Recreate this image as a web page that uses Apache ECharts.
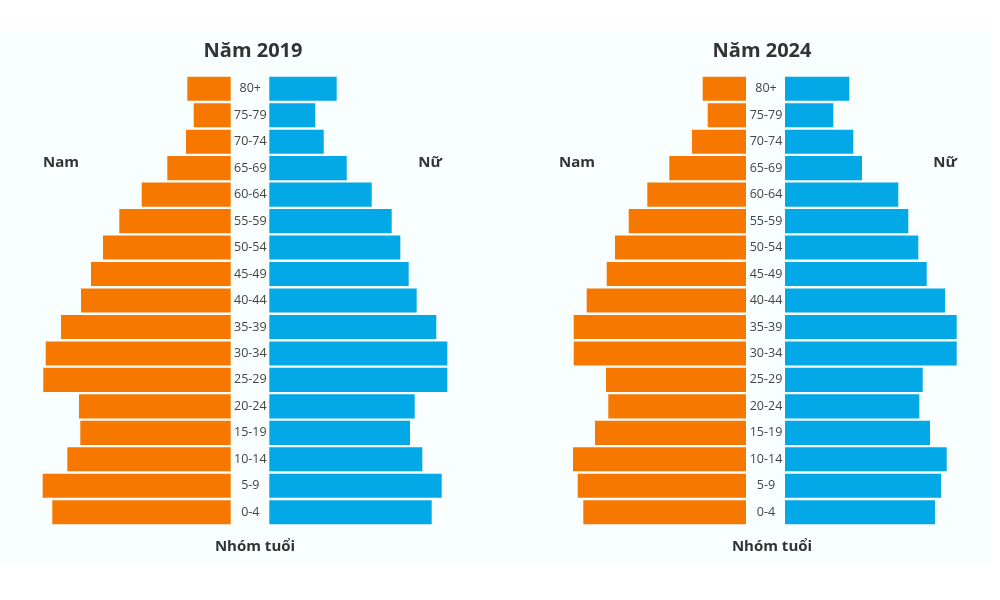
<!DOCTYPE html>
<html>
<head>
<meta charset="utf-8">
<script src="https://cdn.jsdelivr.net/npm/echarts@6/dist/echarts.min.js"></script>
<style>
html,body{margin:0;padding:0;background:#ffffff;}
#chart{width:1000px;height:600px;}
</style>
</head>
<body>
<div id="chart"></div>
<script>
// Age groups, bottom to top
var ageGroups = ['0-4','5-9','10-14','15-19','20-24','25-29','30-34','35-39','40-44','45-49','50-54','55-59','60-64','65-69','70-74','75-79','80+'];
// Relative bar lengths (same order as ageGroups)
var male2019   = [178.4,188,163.4,150.4,151.7,187.4,185,169.7,149.7,139.7,127.7,111.4,89,63.4,44.7,37,43.4];
var female2019 = [162.4,172.4,153,140.7,145.4,178,178,167,147.4,139.4,131,122.4,102.4,77.4,54.4,46,67.4];
var male2024   = [162.7,168.3,173,151,137.7,140,172.3,172.3,159.3,139.3,131,117.3,98.7,76.7,54,38.3,43.3];
var female2024 = [150,156,161.7,145,134.3,137.7,171.7,171.7,160,141.7,133.3,123.3,113.3,77,68.3,48.3,64.3];
var titles = ['Năm 2019','Năm 2024'];
var sideLabels = ['Nam','Nữ'];
var axisTitle = 'Nhóm tuổi';

(function(){
var ORANGE = '#F77800';
var BLUE = '#03A8E6';
var FONT = '"Open Sans", "DejaVu Sans", sans-serif';

var chart = echarts.init(document.getElementById('chart'), null, {renderer:'canvas'});

var gTop = 75.5, gHeight = 450, W = 200;
var grids = [
  {left: 30.7, top: gTop, width: W, height: gHeight},
  {left: 269.3, top: gTop, width: W, height: gHeight},
  {left: 546, top: gTop, width: W, height: gHeight},
  {left: 785, top: gTop, width: W, height: gHeight}
];

function xAx(i, inverse){
  return {gridIndex:i, type:'value', min:0, max:W, inverse:inverse, show:false};
}
function yAx(i, showLabels){
  return {
    gridIndex:i, type:'category', data:ageGroups,
    axisLine:{show:false}, axisTick:{show:false}, splitLine:{show:false},
    axisLabel:{show:showLabels, align:'center', margin:19, color:'#444', fontSize:12.5, fontFamily:FONT}
  };
}
function bar(i, data, color){
  return {type:'bar', xAxisIndex:i, yAxisIndex:i, data:data, barCategoryGap:'9%',
    itemStyle:{color:color}, silent:true, animation:false};
}
function txt(x, y, s, size){
  return {type:'text', x:x, y:y, style:{text:s, fill:'#333', font:'bold '+size+'px '+FONT, textAlign:'center', textVerticalAlign:'middle'}};
}

var option = {
  backgroundColor:'#ffffff',
  animation:false,
  grid: grids,
  xAxis: [xAx(0,true), xAx(1,false), xAx(2,true), xAx(3,false)],
  yAxis: [yAx(0,false), yAx(1,true), yAx(2,false), yAx(3,true)],
  series: [bar(0,male2019,ORANGE), bar(1,female2019,BLUE), bar(2,male2024,ORANGE), bar(3,female2024,BLUE)],
  graphic: [
    {type:'rect', z:-10, shape:{x:0,y:30,width:992,height:535}, style:{fill:'#f9fefe'}},
    txt(253, 51, titles[0], 20),
    txt(762, 51, titles[1], 20),
    txt(61, 163, sideLabels[0], 15),
    txt(430, 163, sideLabels[1], 15),
    txt(577, 163, sideLabels[0], 15),
    txt(945, 163, sideLabels[1], 15),
    txt(255, 547, axisTitle, 15),
    txt(772, 547, axisTitle, 15)
  ]
};
chart.setOption(option);
})();
</script>
</body>
</html>
